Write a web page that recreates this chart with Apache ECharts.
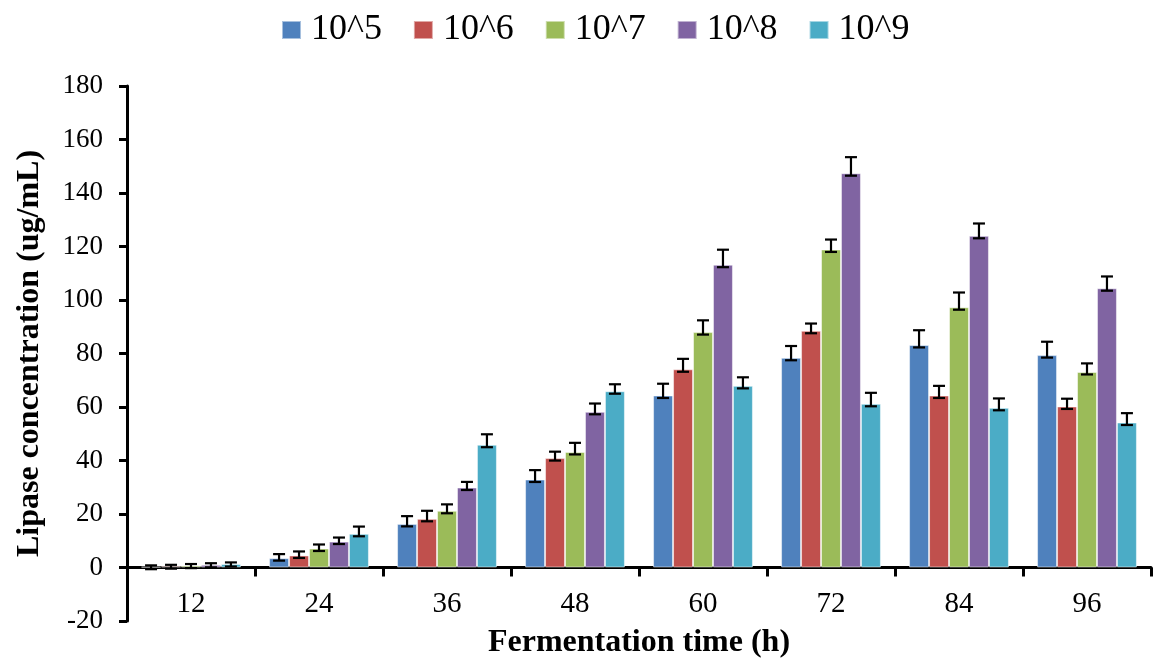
<!DOCTYPE html>
<html><head><meta charset="utf-8">
<script src="https://cdn.jsdelivr.net/npm/echarts@6/dist/echarts.min.js"></script>
<style>html,body{margin:0;padding:0;background:#fff}#c{width:1153px;height:664px}</style>
</head><body><div id="c"></div>
<script>
const categories = ['12','24','36','48','60','72','84','96'];
const seriesNames = ['10^5','10^6','10^7','10^8','10^9'];
const v5 = [0.3, 3.5, 16.3, 32.9, 64.3, 78.4, 83.2, 79.4];
const v6 = [0.5, 4.5, 18.2, 40.9, 74.1, 88.5, 64.3, 60.2];
const v7 = [0.7, 7.1, 21.2, 43.2, 88.0, 118.9, 97.3, 73.1];
const v8 = [1.0, 9.7, 29.9, 58.2, 113.2, 147.4, 124.0, 104.4];
const v9 = [1.3, 12.6, 45.9, 65.9, 67.9, 61.2, 59.7, 54.2];
const e5 = [0.5, 1.5, 2.9, 3.5, 4.4, 4.4, 5.5, 5.0];
const e6 = [0.5, 1.5, 3.0, 2.4, 3.9, 2.7, 3.6, 2.9];
const e7 = [0.6, 1.5, 2.4, 3.4, 4.4, 3.7, 5.5, 3.2];
const e8 = [0.6, 1.5, 2.1, 3.1, 5.6, 6.0, 4.6, 4.4];
const e9 = [0.6, 2.7, 3.9, 2.6, 3.2, 4.1, 3.5, 3.5];
const yTicks = [-20, 180, 20];

const values = [v5, v6, v7, v8, v9];
const errors = [e5, e6, e7, e8, e9];
const colors = ['#4F81BD', '#C0504D', '#9BBB59', '#8064A2', '#4BACC6'];
const FONT = 'Liberation Serif';
const CAT_GAP = 0.22;

const series = [];
values.forEach((vals, s) => {
  series.push({
    name: seriesNames[s], type: 'bar', data: vals,
    barGap: '0%', barCategoryGap: (CAT_GAP * 100) + '%',
    itemStyle: { color: colors[s], borderColor: 'rgba(255,255,255,0.5)', borderWidth: 1 }
  });
});
values.forEach((vals, s) => {
  series.push({
    type: 'custom', z: 5, silent: true,
    data: vals.map((v, i) => [i, v, errors[s][i]]),
    renderItem: function (params, api) {
      const i = api.value(0), v = api.value(1), e = api.value(2);
      const band = api.size([1, 0])[0];
      const bw = band * (1 - CAT_GAP) / values.length;
      const base = api.coord([i, v]);
      const top = api.coord([i, v + e]);
      const x = base[0] + (s - (values.length - 1) / 2) * bw;
      const yLow = base[1] + 2.5;
      const yHigh = top[1];
      const hw = 6;
      const st = { stroke: '#000', lineWidth: 2.2 };
      return { type: 'group', children: [
        { type: 'line', shape: { x1: x, y1: yLow, x2: x, y2: yHigh }, style: st },
        { type: 'line', shape: { x1: x - hw, y1: yHigh, x2: x + hw, y2: yHigh }, style: st },
        { type: 'line', shape: { x1: x - hw, y1: yLow, x2: x + hw, y2: yLow }, style: st }
      ]};
    }
  });
});

const chart = echarts.init(document.getElementById('c'), null, { renderer: 'canvas' });
chart.setOption({
  animation: false,
  textStyle: { fontFamily: FONT },
  color: colors,
  legend: {
    data: seriesNames, top: 7, left: 276,
    itemWidth: 19, itemHeight: 18, itemGap: 31, icon: 'rect',
    textStyle: { fontFamily: FONT, fontSize: 36, color: '#000', padding: [0, 0, 0, 5] }
  },
  grid: { left: 127, right: 2, top: 86, bottom: 43, containLabel: false, outerBoundsMode: 'none' },
  xAxis: {
    type: 'category', data: categories,
    name: 'Fermentation time (h)', nameLocation: 'middle', nameGap: 6,
    nameTextStyle: { fontFamily: FONT, fontSize: 32, fontWeight: 'bold', color: '#000' },
    axisLine: { onZero: true, lineStyle: { color: '#000', width: 3 } },
    axisTick: { show: true, length: 9, lineStyle: { color: '#000', width: 3 } },
    axisLabel: { fontFamily: FONT, fontSize: 29, color: '#000', margin: -31 }
  },
  yAxis: {
    type: 'value', min: yTicks[0], max: yTicks[1], interval: yTicks[2],
    name: 'Lipase concentration (ug/mL)', nameLocation: 'middle', nameGap: 81, nameRotate: 90,
    nameTextStyle: { fontFamily: FONT, fontSize: 32, fontWeight: 'bold', color: '#000' },
    axisLine: { show: true, lineStyle: { color: '#000', width: 3 } },
    axisTick: { show: true, length: 8, lineStyle: { color: '#000', width: 3 } },
    axisLabel: { fontFamily: FONT, fontSize: 27, color: '#000', margin: 24 },
    splitLine: { show: false }
  },
  series: series
});
</script></body></html>
